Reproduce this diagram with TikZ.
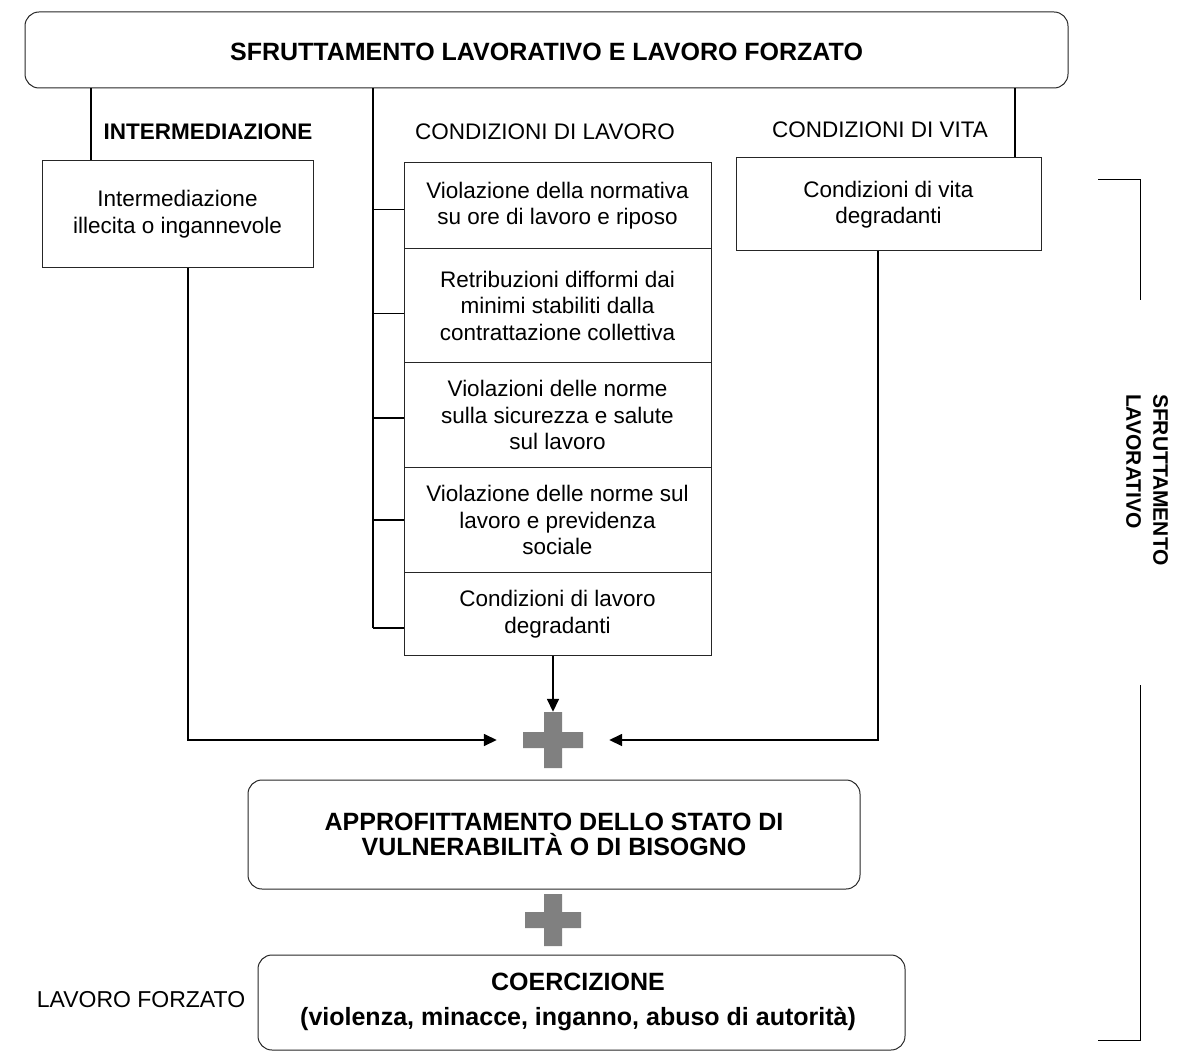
\documentclass[tikz,border=0pt]{standalone}
\usepackage{fontspec}
\setmainfont{Liberation Sans}
\usetikzlibrary{arrows.meta}
\begin{document}
\begin{tikzpicture}[x=1pt,y=-1pt,
  box/.style={draw=black!85, line width=1pt, inner sep=0pt, align=center},
  rbox/.style={box, rounded corners=14pt},
  conn/.style={draw=black, line width=1.6pt},
  arr/.style={conn, -{Triangle[length=13pt,width=12pt]}},
  bracketline/.style={draw=black, line width=1pt},
  plusc/.style={fill=black!50},
  txt/.style={font=\fontsize{22.5}{26.5}\selectfont, align=center},
  hdr/.style={font=\fontsize{22.5}{26.5}\selectfont\bfseries},
  lbl/.style={font=\fontsize{22.5}{26.5}\selectfont},
  big/.style={font=\fontsize{25}{25}\selectfont\bfseries, align=center},
]
\useasboundingbox (0,0) rectangle (1180,1059);

% top box
\node[rbox, minimum width=1043pt, minimum height=76pt] (top) at (546.5,50) {};
\node[big] (title) at (546.5,52) {SFRUTTAMENTO LAVORATIVO E LAVORO FORZATO};

% column labels
\node[hdr, anchor=west] (lInter) at (100,132) {INTERMEDIAZIONE};
\node[lbl] (lLav) at (545,132) {CONDIZIONI DI LAVORO};
\node[lbl] (lVita) at (880,130) {CONDIZIONI DI VITA};

% intermediazione box
\node[box, txt, minimum width=271pt, minimum height=107pt] (inter) at (177.5,214) {Intermediazione\\illecita o ingannevole};

% condizioni di lavoro column
\node[box, txt, minimum width=307pt, minimum height=86pt] (c1) at (557.5,205.5) {Violazione della normativa\\su ore di lavoro e riposo};
\node[box, txt, minimum width=307pt, minimum height=114pt] (c2) at (557.5,305.5) {Retribuzioni difformi dai\\minimi stabiliti dalla\\contrattazione collettiva};
\node[box, txt, minimum width=307pt, minimum height=105pt] (c3) at (557.5,415) {Violazioni delle norme\\sulla sicurezza e salute\\sul lavoro};
\node[box, txt, minimum width=307pt, minimum height=105pt] (c4) at (557.5,520) {Violazione delle norme sul\\lavoro e previdenza\\sociale};
\node[box, txt, minimum width=307pt, minimum height=83pt] (c5) at (557.5,614) {Condizioni di lavoro\\degradanti};

% condizioni di vita box
\node[box, txt, minimum width=305pt, minimum height=93pt] (vita) at (888.5,204.5) {Condizioni di vita\\degradanti};

% plus signs
\node[minimum width=112pt, minimum height=56pt, inner sep=0pt] (plus1) at (553,740) {};
\fill[plusc, shift={(plus1.center)}] (-30,-8) rectangle (30,8) (-9,-28) rectangle (9,28);
\node[minimum width=60pt, minimum height=54pt, inner sep=0pt] (plus2) at (553,920) {};
\fill[plusc, shift={(plus2.center)}] (-28,-8) rectangle (28,8) (-9,-26) rectangle (9,26);

% approfittamento / coercizione
\node[rbox, big, minimum width=612pt, minimum height=109pt] (appr) at (554,834.5) {APPROFITTAMENTO DELLO STATO DI\\VULNERABILITÀ O DI BISOGNO};
\node[rbox, minimum width=647pt, minimum height=95pt] (coer) at (581.5,1002.5) {};
\node[big, font=\fontsize{25}{35}\selectfont\bfseries] (coerT) at (578,1002) {COERCIZIONE\\(violenza, minacce, inganno, abuso di autorità)};

\node[font=\fontsize{23}{26}\selectfont] (lf) at (141,1000) {LAVORO FORZATO};

% vertical label
\node[font=\fontsize{21}{27}\selectfont\bfseries, rotate=-90, align=left] (sl) at (1147,480) {SFRUTTAMENTO\\LAVORATIVO};

% connectors
\coordinate (xL) at (91,0);
\coordinate (xS) at (373,0);
\coordinate (xV) at (1015,0);
\coordinate (spineEnd) at (373,628);
\coordinate (jL) at (188,740);
\coordinate (jR) at (878,740);

\draw[conn] (top.south -| xL) -- (inter.north -| xL);
\draw[conn] (top.south -| xS) -- (spineEnd);
\draw[conn] (top.south -| xV) -- (vita.north -| xV);

\draw[conn] ([yshift=-4pt]c1.west) -- ([yshift=-4pt]c1.west -| xS);
\draw[conn] ([yshift=-8pt]c2.west) -- ([yshift=-8pt]c2.west -| xS);
\draw[conn] ([yshift=-3pt]c3.west) -- ([yshift=-3pt]c3.west -| xS);
\draw[conn] (c4.west) -- (c4.west -| xS);
\draw[conn] (spineEnd -| c5.west) -- (spineEnd);

\draw[arr] (c5.south -| plus1) -- (plus1.north);
\draw[arr] (inter.south -| jL) -- (jL) -- (plus1.west);
\draw[arr] (vita.south -| jR) -- (jR) -- (plus1.east);

% right bracket
\coordinate (bTopL) at (1098,180);
\coordinate (bTop) at (1140,180);
\coordinate (bTopEnd) at (1140,300);
\coordinate (bBotStart) at (1140,685);
\coordinate (bBot) at (1140,1040);
\coordinate (bBotL) at (1098,1040);
\draw[bracketline] (bTopL) -- (bTop) -- (bTopEnd);
\draw[bracketline] (bBotStart) -- (bBot) -- (bBotL);
\end{tikzpicture}
\end{document}
